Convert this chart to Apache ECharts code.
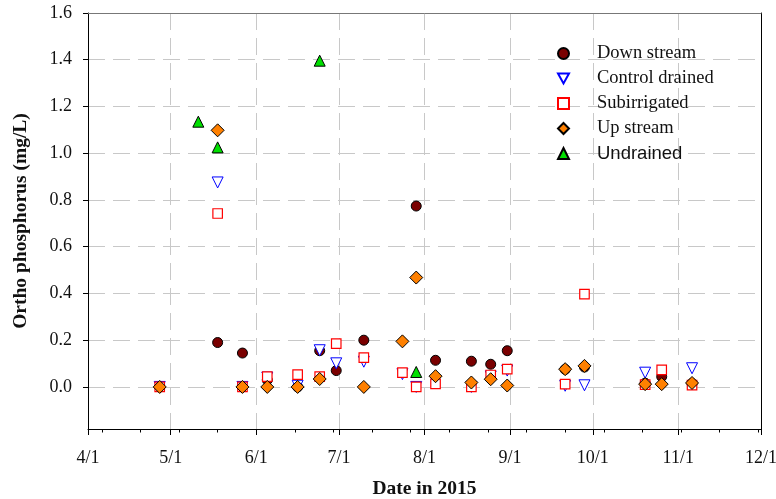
<!DOCTYPE html>
<html>
<head>
<meta charset="utf-8">
<script src="https://cdn.jsdelivr.net/npm/echarts@6/dist/echarts.min.js"></script>
<style>
  html, body { margin: 0; padding: 0; background: #fff; }
  #main { width: 776px; height: 499px; }
</style>
</head>
<body>
<div id="main"></div>
<script>
// month labels on the date axis, and the small ticks in between (every 2 weeks)
var monthTicks = ['4/1', '5/1', '6/1', '7/1', '8/1', '9/1', '10/1', '11/1', '12/1'];
var minorTicks = ['4/6', '4/20', '5/4', '5/18', '6/1', '6/15', '6/29', '7/13', '7/27', '8/10',
    '8/24', '9/7', '9/21', '10/5', '10/19', '11/2', '11/16', '11/30'];
var yTicks = [0, 0.2, 0.4, 0.6, 0.8, 1.0, 1.2, 1.4, 1.6];

// Down stream
var downDates = ['4/27', '5/18', '5/27', '6/5', '6/16', '6/24', '6/30', '7/10', '7/29', '8/5',
    '8/18', '8/25', '8/31', '9/21', '9/28', '10/20', '10/26', '11/6'];
var downValues = [0, 0.19, 0.145, 0.03, 0, 0.155, 0.07, 0.2, 0.774, 0.114,
    0.11, 0.097, 0.155, 0.075, 0.085, 0.016, 0.044, 0.015];

// Control drained
var ctrlDates = ['4/27', '5/18', '5/27', '6/5', '6/16', '6/24', '6/30', '7/10', '7/24', '7/29',
    '8/18', '8/25', '8/31', '9/21', '9/28', '10/20', '11/6'];
var ctrlValues = [0, 0.875, 0, 0.04, 0.005, 0.157, 0.101, 0.108, 0.055, 0,
    0, 0.045, 0.07, 0.005, 0.007, 0.061, 0.08];

// Subirrigated
var subDates = ['4/27', '5/18', '5/27', '6/5', '6/16', '6/24', '6/30', '7/10', '7/24', '7/29',
    '8/5', '8/18', '8/25', '8/31', '9/21', '9/28', '10/20', '10/26', '11/6'];
var subValues = [0, 0.742, 0, 0.044, 0.053, 0.044, 0.185, 0.125, 0.061, 0,
    0.013, 0, 0.051, 0.076, 0.012, 0.397, 0.01, 0.073, 0.008];

// Up stream
var upDates = ['4/27', '5/18', '5/27', '6/5', '6/16', '6/24', '7/10', '7/24', '7/29', '8/5',
    '8/18', '8/25', '8/31', '9/21', '9/28', '10/20', '10/26', '11/6'];
var upValues = [0, 1.098, 0, 0, 0, 0.034, 0, 0.195, 0.468, 0.046,
    0.019, 0.033, 0.006, 0.076, 0.09, 0.012, 0.012, 0.017];

// Undrained
var undDates = ['5/11', '5/18', '6/24', '7/29'];
var undValues = [1.135, 1.025, 1.396, 0.064];

// days since 4/1/2015
function dayOf(md) {
    var p = md.split('/');
    return Math.round((Date.UTC(2015, +p[0] - 1, +p[1]) - Date.UTC(2015, 3, 1)) / 86400000);
}
function pairs(dates, values) {
    return dates.map(function (d, i) { return [dayOf(d), values[i]]; });
}

var monthDays = monthTicks.map(dayOf);
var serif = '"Liberation Serif", "Times New Roman", serif';
var gridDash = { color: '#c8c8c8', width: 1, type: [17, 8] };
var downTriangle = 'path://M0,0 L10,0 L5,9 Z';

var myChart = echarts.init(document.getElementById('main'));

var option = {
    animation: false,
    textStyle: { fontFamily: serif },
    grid: { left: 88, top: 13, right: 15, bottom: 70, containLabel: false, outerBoundsMode: 'none' },
    legend: {
        orient: 'vertical',
        left: 557,
        top: 44,
        padding: 0,
        itemWidth: 11,
        itemHeight: 11,
        itemGap: 6,
        data: [
            { name: 'Down stream' },
            { name: 'Control drained', icon: downTriangle },
            { name: 'Subirrigated' },
            { name: 'Up stream' },
            { name: 'Undrained' }
        ],
        formatter: function (name) {
            return name === 'Undrained' ? '{sans|' + name + '}' : name;
        },
        textStyle: {
            fontFamily: serif,
            fontSize: 18.5,
            color: '#111',
            padding: [0, 0, 0, 23],
            rich: {
                sans: { fontFamily: '"Liberation Sans", Arial, sans-serif', fontSize: 18.5, color: '#111' }
            }
        }
    },
    xAxis: [
        {
            type: 'value',
            min: 0,
            max: 244,
            name: 'Date in 2015',
            nameLocation: 'middle',
            nameGap: 50,
            nameTextStyle: { fontFamily: serif, fontSize: 19.5, fontWeight: 'bold', color: '#111' },
            axisLine: { show: true, onZero: false, lineStyle: { color: '#000', width: 1 } },
            axisTick: { show: true, length: 6, customValues: monthDays, lineStyle: { color: '#000' } },
            axisLabel: {
                customValues: monthDays,
                margin: 20,
                fontFamily: serif,
                fontSize: 18,
                color: '#111',
                formatter: function (v) { return monthTicks[monthDays.indexOf(v)]; }
            },
            splitLine: { show: true, lineStyle: gridDash }
        },
        {
            // biweekly small ticks
            type: 'value',
            min: 0,
            max: 244,
            position: 'bottom',
            axisLine: { show: false, onZero: false },
            axisTick: { show: true, length: 3.5, customValues: minorTicks.map(dayOf), lineStyle: { color: '#000' } },
            axisLabel: { show: false },
            splitLine: { show: false }
        },
        {
            // top frame
            type: 'value',
            min: 0,
            max: 244,
            position: 'top',
            axisLine: { show: true, onZero: false, lineStyle: { color: '#777', width: 1 } },
            axisTick: { show: false },
            axisLabel: { show: false },
            splitLine: { show: false }
        }
    ],
    yAxis: [
        {
            type: 'value',
            min: -0.18,
            max: 1.6,
            name: 'Ortho phosphorus (mg/L)',
            nameLocation: 'middle',
            nameGap: 57,
            nameTextStyle: { fontFamily: serif, fontSize: 19.5, fontWeight: 'bold', color: '#111' },
            axisLine: { show: true, onZero: false, lineStyle: { color: '#000', width: 1 } },
            axisTick: { show: true, length: 5, customValues: yTicks, lineStyle: { color: '#000' } },
            axisLabel: {
                customValues: yTicks,
                margin: 16,
                fontFamily: serif,
                fontSize: 18,
                color: '#111',
                formatter: function (v) { return v.toFixed(1); }
            },
            splitLine: { show: true, lineStyle: gridDash }
        },
        {
            // right frame
            type: 'value',
            min: -0.18,
            max: 1.6,
            position: 'right',
            axisLine: { show: true, onZero: false, lineStyle: { color: '#000', width: 1 } },
            axisTick: { show: false },
            axisLabel: { show: false },
            splitLine: { show: false }
        }
    ],
    series: [
        {
            name: 'Down stream',
            type: 'scatter',
            symbol: 'circle',
            symbolSize: 10,
            itemStyle: { color: '#7a0000', borderColor: '#000', borderWidth: 1, opacity: 1 },
            data: pairs(downDates, downValues)
        },
        {
            name: 'Control drained',
            type: 'scatter',
            symbol: 'triangle',
            symbolRotate: 180,
            symbolSize: 11,
            itemStyle: { color: '#fff', borderColor: '#0000ff', borderWidth: 1, opacity: 1 },
            data: pairs(ctrlDates, ctrlValues)
        },
        {
            name: 'Subirrigated',
            type: 'scatter',
            symbol: 'rect',
            symbolSize: 9.5,
            itemStyle: { color: '#fff', borderColor: '#ff0000', borderWidth: 1.2, opacity: 1 },
            data: pairs(subDates, subValues)
        },
        {
            name: 'Up stream',
            type: 'scatter',
            symbol: 'diamond',
            symbolSize: 13,
            itemStyle: { color: '#ff8000', borderColor: '#000', borderWidth: 1, opacity: 1 },
            data: pairs(upDates, upValues)
        },
        {
            name: 'Undrained',
            type: 'scatter',
            symbol: 'triangle',
            symbolSize: 11,
            itemStyle: { color: '#00e000', borderColor: '#000', borderWidth: 1, opacity: 1 },
            data: pairs(undDates, undValues)
        }
    ]
};

myChart.setOption(option);
</script>
</body>
</html>
